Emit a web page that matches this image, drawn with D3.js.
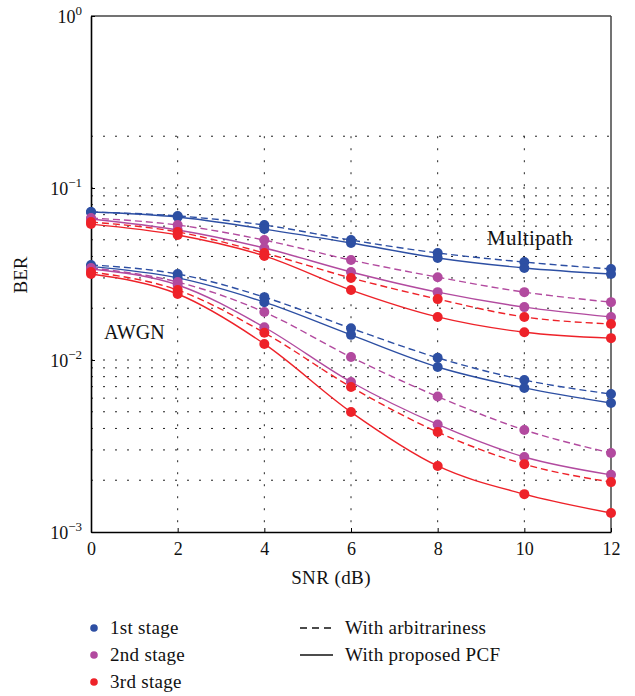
<!DOCTYPE html>
<html><head><meta charset="utf-8">
<script src="https://cdn.jsdelivr.net/npm/d3@7"></script>
<style>body{margin:0;background:#fff}</style>
</head><body>
<svg id="chart" width="635" height="696"></svg>
<script>
const snr = [0, 2, 4, 6, 8, 10, 12];
const xTickLabels = ["0","2","4","6","8","10","12"];
const yTickExps = ["0","−1","−2","−3"];
const stages = ["1st stage","2nd stage","3rd stage"];
const methods = ["With arbitrariness","With proposed PCF"];
const stageColors = ["#2d4fa3","#b24a9f","#ee2229"];

// Multipath
const mp1Arb = [0.0725, 0.0688, 0.0609, 0.0498, 0.0419, 0.0371, 0.0338];
const mp1Pcf = [0.0725, 0.0678, 0.0577, 0.0479, 0.0392, 0.0343, 0.0316];
const mp2Arb = [0.0669, 0.0609, 0.0498, 0.0381, 0.0303, 0.0248, 0.0217];
const mp2Pcf = [0.0660, 0.0570, 0.0448, 0.0325, 0.0248, 0.0203, 0.0178];
const mp3Arb = [0.0634, 0.0555, 0.0419, 0.0300, 0.0226, 0.0178, 0.0162];
const mp3Pcf = [0.0617, 0.0533, 0.0403, 0.0255, 0.0178, 0.0145, 0.0134];
// AWGN
const aw1Arb = [0.0357, 0.0316, 0.0232, 0.0153, 0.0103, 0.00765, 0.00634];
const aw1Pcf = [0.0350, 0.0300, 0.0217, 0.0140, 0.00911, 0.00688, 0.00562];
const aw2Arb = [0.0343, 0.0284, 0.0190, 0.0104, 0.00613, 0.00392, 0.00288];
const aw2Pcf = [0.0338, 0.0273, 0.0155, 0.00745, 0.00422, 0.00273, 0.00215];
const aw3Arb = [0.0325, 0.0255, 0.0144, 0.00697, 0.00381, 0.00248, 0.00195];
const aw3Pcf = [0.0316, 0.0242, 0.0124, 0.00498, 0.00242, 0.00166, 0.00129];

const series = [
  {v: mp1Arb, s:0, m:0}, {v: mp1Pcf, s:0, m:1},
  {v: mp2Arb, s:1, m:0}, {v: mp2Pcf, s:1, m:1},
  {v: mp3Arb, s:2, m:0}, {v: mp3Pcf, s:2, m:1},
  {v: aw1Arb, s:0, m:0}, {v: aw1Pcf, s:0, m:1},
  {v: aw2Arb, s:1, m:0}, {v: aw2Pcf, s:1, m:1},
  {v: aw3Arb, s:2, m:0}, {v: aw3Pcf, s:2, m:1}
];

const svg = d3.select("#chart");
const font = "'Liberation Serif', 'DejaVu Serif', serif";
const L = 91, R = 611, T = 16, B = 532;
const x = d3.scaleLinear().domain([0, 12]).range([L, R]);
const y = d3.scaleLog().domain([1e-3, 1]).range([B, T]);

// grid
const hGrid = [0.2, 0.1];
for (const dec of [1e-2, 1e-3]) for (let k = 9; k >= 1; k--) if (!(dec === 1e-3 && k === 1)) hGrid.push(k * dec);
const g = svg.append("g");
g.selectAll("line.h").data(hGrid).join("line")
  .attr("x1", L).attr("x2", R).attr("y1", d => y(d)).attr("y2", d => y(d))
  .attr("stroke", "#222").attr("stroke-width", 1).attr("stroke-dasharray", "2,10");
g.selectAll("line.v").data(snr.slice(1, -1)).join("line")
  .attr("x1", d => x(d)).attr("x2", d => x(d)).attr("y1", y(0.2)).attr("y2", B)
  .attr("stroke", "#222").attr("stroke-width", 1).attr("stroke-dasharray", "2,10");

// frame
svg.append("line").attr("x1", L).attr("x2", R).attr("y1", T).attr("y2", T).attr("stroke", "#444").attr("stroke-width", 1.5);
svg.append("line").attr("x1", R).attr("x2", R).attr("y1", T).attr("y2", B).attr("stroke", "#444").attr("stroke-width", 1.5);

// x axis
const xAxis = d3.axisBottom(x).tickValues(snr).tickFormat((d, i) => xTickLabels[i]).tickSizeInner(-4).tickSizeOuter(0).tickPadding(10);
const xa = svg.append("g").attr("transform", `translate(0,${B})`).call(xAxis);
xa.select(".domain").attr("stroke", "#000").attr("stroke-width", 1.6);
xa.selectAll(".tick line").attr("stroke", "#000");
xa.selectAll("text").attr("font-family", font).attr("font-size", 18).attr("fill", "#111");

// y axis
const yVals = [1, 0.1, 0.01, 0.001];
const yAxis = d3.axisLeft(y).tickValues(yVals).tickFormat("").tickSizeInner(-4).tickSizeOuter(0);
const ya = svg.append("g").attr("transform", `translate(${L},0)`).call(yAxis);
ya.select(".domain").attr("stroke", "#000").attr("stroke-width", 1.6);
ya.selectAll(".tick line").attr("stroke", "#000");
const yl = svg.append("g");
yVals.forEach((v, i) => {
  const t = yl.append("text").attr("x", 82).attr("y", y(v) + 7).attr("text-anchor", "end")
    .attr("font-family", font).attr("font-size", 18).attr("fill", "#111");
  t.append("tspan").text("10");
  t.append("tspan").attr("dy", -8).attr("font-size", 13).text(yTickExps[i]);
});

// axis titles
svg.append("text").attr("x", 331).attr("y", 584).attr("text-anchor", "middle")
  .attr("font-family", font).attr("font-size", 19).attr("letter-spacing", 0.4).attr("fill", "#111").text("SNR (dB)");
svg.append("text").attr("transform", "translate(27,275) rotate(-90)").attr("text-anchor", "middle")
  .attr("font-family", font).attr("font-size", 19).attr("fill", "#111").text("BER");

// curves
const line = d3.line().x((d, i) => x(snr[i])).y(d => y(d)).curve(d3.curveMonotoneX);
const cg = svg.append("g");
series.forEach(sr => {
  cg.append("path").attr("d", line(sr.v)).attr("fill", "none")
    .attr("stroke", stageColors[sr.s]).attr("stroke-width", 1.4)
    .attr("stroke-dasharray", sr.m === 0 ? "7,4" : null);
});
series.forEach(sr => {
  cg.selectAll(null).data(sr.v).join("circle")
    .attr("cx", (d, i) => x(snr[i])).attr("cy", d => y(d)).attr("r", 5)
    .attr("fill", stageColors[sr.s]);
});

// annotations
svg.append("text").attr("x", 487).attr("y", 245).attr("font-family", font).attr("font-size", 21).attr("letter-spacing", 0.3).attr("fill", "#111").text("Multipath");
svg.append("text").attr("x", 104).attr("y", 339).attr("font-family", font).attr("font-size", 20).attr("fill", "#111").text("AWGN");

// legend
const lg = svg.append("g");
stages.forEach((s, i) => {
  const yy = 628 + i * 27;
  lg.append("circle").attr("cx", 94).attr("cy", yy).attr("r", 3.8).attr("fill", stageColors[i]);
  lg.append("text").attr("x", 110).attr("y", yy + 6).attr("font-family", font).attr("font-size", 19).attr("letter-spacing", 0.3).attr("fill", "#111").text(s);
});
methods.forEach((m, i) => {
  const yy = 628 + i * 27;
  lg.append("line").attr("x1", 300).attr("x2", 333).attr("y1", yy).attr("y2", yy)
    .attr("stroke", "#111").attr("stroke-width", 1.3).attr("stroke-dasharray", i === 0 ? "7,5" : null);
  lg.append("text").attr("x", 345).attr("y", yy + 6).attr("font-family", font).attr("font-size", 19).attr("letter-spacing", 0.3).attr("fill", "#111").text(m);
});
</script>
</body></html>
